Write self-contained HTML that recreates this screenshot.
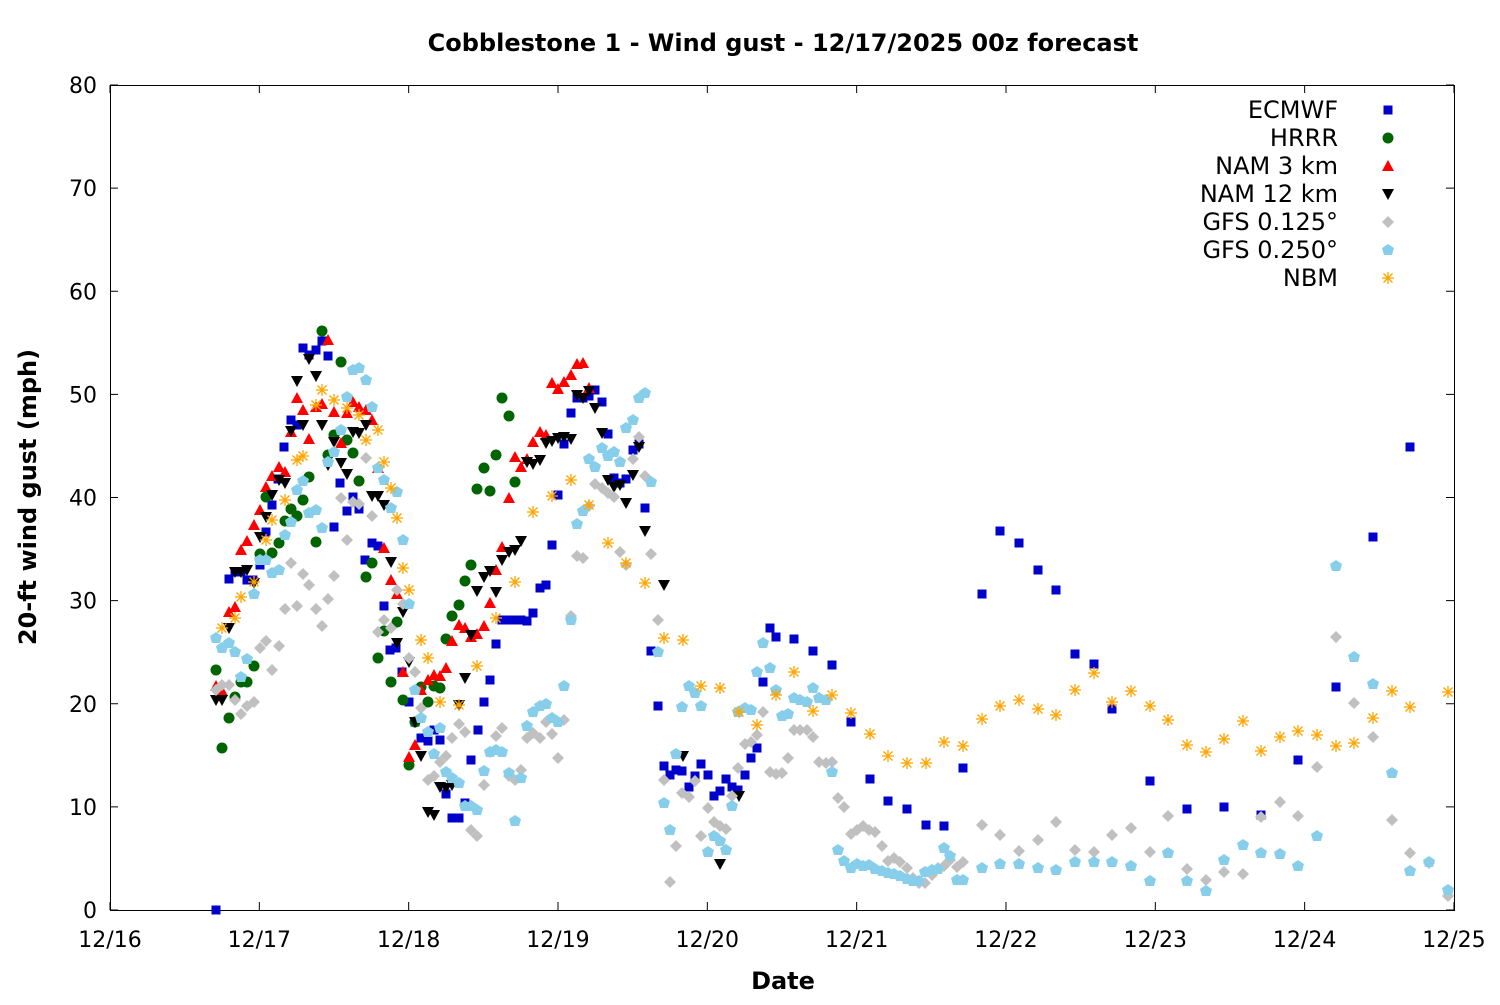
<!DOCTYPE html>
<html><head><meta charset="utf-8"><style>
body{margin:0;background:#fff}
svg text{font-family:"DejaVu Sans","Liberation Sans",sans-serif;fill:#000}
</style></head><body>
<svg id="s" width="1500" height="1000" xmlns="http://www.w3.org/2000/svg">
<rect width="1500" height="1000" fill="#fff"/>
<text x="783" y="51" font-size="24" font-weight="bold" text-anchor="middle">Cobblestone 1 - Wind gust - 12/17/2025 00z forecast</text>
<rect x="110.5" y="85.5" width="1344" height="825" fill="none" stroke="#000" stroke-width="1"/>
<g id="ticks"></g>
<text x="783" y="989" font-size="24" font-weight="bold" text-anchor="middle">Date</text>
<text transform="translate(36,497) rotate(-90)" font-size="24" font-weight="bold" text-anchor="middle">20-ft wind gust (mph)</text>
<g id="pts"></g>
<g font-size="24" text-anchor="end">
<text x="1338" y="118">ECMWF</text><text x="1338" y="146">HRRR</text><text x="1338" y="174">NAM 3 km</text><text x="1338" y="202">NAM 12 km</text><text x="1338" y="230">GFS 0.125°</text><text x="1338" y="258">GFS 0.250°</text><text x="1338" y="286">NBM</text>
</g>
</svg>
<script>
const T=document.getElementById('ticks');let h='';
for(let i=0;i<=8;i++){const y=910-i*103.125;h+=`<line x1="110" y1="${y}" x2="118" y2="${y}" stroke="#000"/><line x1="1454" y1="${y}" x2="1446" y2="${y}" stroke="#000"/><text x="97" y="${y+8}" font-size="22" text-anchor="end">${i*10}</text>`;}
const dl=['12/16','12/17','12/18','12/19','12/20','12/21','12/22','12/23','12/24','12/25'];
for(let i=0;i<=9;i++){const x=110+i*149.33;h+=`<line x1="${x}" y1="910" x2="${x}" y2="902" stroke="#000"/><line x1="${x}" y1="85" x2="${x}" y2="93" stroke="#000"/><text x="${x}" y="947" font-size="22" text-anchor="middle">${dl[i]}</text>`;}
T.innerHTML=h;
function mk(t,x,y){
 if(t==0)return `<rect x="${x-4.5}" y="${y-4.5}" width="9" height="9" fill="#0000cc"/>`;
 if(t==1)return `<circle cx="${x}" cy="${y}" r="5.5" fill="#006400"/>`;
 if(t==2)return `<polygon points="${x},${y-6} ${x+6},${y+5} ${x-6},${y+5}" fill="#ff0000"/>`;
 if(t==3)return `<polygon points="${x},${y+6} ${x+6},${y-5} ${x-6},${y-5}" fill="#000"/>`;
 if(t==4)return `<polygon points="${x},${y-6} ${x+6},${y} ${x},${y+6} ${x-6},${y}" fill="#c0c0c0"/>`;
 if(t==5)return `<polygon points="${x},${y-6} ${x+6},${y-2} ${x+4},${y+5} ${x-4},${y+5} ${x-6},${y-2}" fill="#87ceeb"/>`;
 return `<g stroke="#ffa500" stroke-width="1.3"><line x1="${x-6}" y1="${y}" x2="${x+6}" y2="${y}"/><line x1="${x}" y1="${y-6}" x2="${x}" y2="${y+6}"/><line x1="${x-4.5}" y1="${y-4.5}" x2="${x+4.5}" y2="${y+4.5}"/><line x1="${x-4.5}" y1="${y+4.5}" x2="${x+4.5}" y2="${y-4.5}"/></g>`;
}
const D=[
[216,910,229,579,235,572,241,572,247,580,253,580,260,565,266,532,272,505,278,479,284,447,291,420,297,425,303,348,309,355,316,350,322,341,328,356,334,527,340,483,347,511,353,497,359,509,365,560,372,543,378,546,384,606,390,650,396,648,402,672,409,702,415,722,421,738,428,741,434,730,440,740,446,794,452,818,459,818,465,803,471,760,478,730,484,702,490,680,496,644,502,620,509,620,515,620,521,620,527,621,533,613,540,588,546,585,552,545,558,495,564,444,571,413,577,398,583,398,589,396,595,390,602,402,608,434,614,478,620,483,626,479,633,450,639,444,645,508,651,651,658,706,664,766,670,775,676,770,682,771,689,787,695,776,701,764,708,775,714,796,720,791,726,779,732,787,738,790,745,775,751,758,757,748,763,682,770,628,776,637,794,639,813,651,832,665,851,722,870,779,888,801,907,809,926,825,944,826,963,768,982,594,1000,531,1019,543,1038,570,1056,590,1075,654,1094,664,1112,709,1150,781,1187,809,1224,807,1261,815,1298,760,1336,687,1373,537,1410,447],
[216,670,222,748,229,718,235,697,241,682,247,682,254,666,260,554,266,497,272,553,279,543,285,521,291,509,297,516,303,500,309,477,316,542,322,331,328,455,334,435,341,362,347,440,353,453,359,481,366,577,372,563,378,658,384,631,391,682,397,622,403,700,409,765,415,722,421,687,428,702,434,686,440,688,446,639,452,616,459,605,465,581,471,565,477,489,484,468,490,491,496,455,502,398,509,416,515,482],
[216,686,222,691,229,612,235,607,241,550,247,541,254,525,260,510,266,487,272,476,279,467,285,472,291,432,297,398,303,410,309,439,316,407,322,404,328,340,334,412,341,443,347,413,353,402,359,407,366,410,372,420,378,468,384,548,391,580,397,594,403,672,409,757,415,745,421,690,428,680,434,675,440,676,446,668,452,641,459,625,465,628,471,637,477,634,484,626,490,603,496,570,502,547,509,498,515,457,521,467,527,459,533,442,540,432,546,435,552,383,558,389,564,382,571,375,577,364,583,363,589,388],
[216,700,222,700,229,628,235,572,241,572,247,570,254,583,260,537,266,517,272,495,279,480,285,483,291,431,297,381,303,425,309,359,316,376,322,425,328,465,334,442,341,463,347,474,353,432,359,433,366,425,372,496,378,496,384,505,391,562,397,643,403,612,409,662,415,722,421,756,428,812,434,815,440,787,446,788,452,785,459,705,465,678,471,635,477,591,484,577,490,571,496,592,502,560,509,552,515,550,521,541,527,462,533,464,540,460,546,443,552,441,558,438,564,437,571,439,577,395,583,398,589,391,595,408,602,433,608,480,614,487,620,485,626,503,633,475,639,447,645,531,664,585,683,756,720,864,739,796],
[216,690,222,685,229,685,235,700,241,714,247,706,254,702,260,648,266,641,272,670,279,646,285,609,291,563,297,606,303,574,309,585,316,609,322,626,328,599,334,576,341,498,347,540,353,502,359,504,366,458,372,516,378,632,384,620,391,628,397,590,403,604,409,658,415,672,421,708,428,780,434,776,440,762,446,756,452,738,459,724,465,732,471,830,477,836,484,785,490,752,496,736,502,728,509,776,515,780,521,770,527,738,533,733,540,738,546,722,552,734,558,758,564,720,571,616,577,556,583,558,589,506,595,484,602,488,608,493,614,497,620,552,626,565,633,459,639,437,645,476,651,554,658,620,664,780,670,882,676,846,682,793,689,797,695,781,701,836,708,808,714,822,720,826,726,829,732,796,738,768,745,744,751,742,757,735,763,712,770,772,776,774,782,773,788,758,794,730,800,730,807,730,813,737,819,762,826,763,832,762,838,798,844,807,851,834,857,830,863,826,869,830,875,832,882,846,888,861,894,858,900,862,907,868,913,878,919,883,925,883,932,875,938,868,944,866,950,860,957,867,963,862,982,825,1000,835,1019,851,1038,840,1056,822,1075,850,1094,852,1112,835,1131,828,1150,852,1168,816,1187,869,1206,880,1224,872,1243,874,1261,817,1280,802,1298,816,1317,767,1336,637,1354,703,1373,737,1392,820,1410,853,1429,863,1448,896],
[216,638,222,648,229,643,235,652,241,677,247,659,254,594,260,560,266,560,272,573,279,570,285,535,291,522,297,490,303,481,309,513,316,510,322,528,328,462,334,452,341,430,347,397,353,370,359,368,366,380,372,407,378,468,384,480,391,508,397,492,403,540,409,604,415,690,421,718,428,732,434,754,440,728,446,772,452,778,459,783,465,806,471,806,477,810,484,771,490,752,496,750,502,752,509,773,515,821,521,778,527,726,533,712,540,706,546,704,552,718,558,722,564,686,571,620,577,524,583,511,589,459,595,467,602,448,608,456,614,452,620,462,626,428,633,420,639,398,645,393,651,482,658,652,664,803,670,830,676,754,682,707,689,686,695,693,701,706,708,852,714,836,720,841,726,850,732,806,738,712,745,708,751,710,757,672,763,643,770,668,776,690,782,716,788,714,794,698,800,700,807,702,813,688,819,698,826,700,832,772,838,850,844,861,851,868,857,864,863,866,869,865,875,869,882,871,888,873,894,874,900,876,907,879,913,881,919,881,925,872,932,870,938,869,944,848,950,856,957,880,963,880,982,868,1000,864,1019,864,1038,868,1056,870,1075,862,1094,862,1112,862,1131,866,1150,881,1168,853,1187,881,1206,891,1224,860,1243,845,1261,853,1280,854,1298,866,1317,836,1336,566,1354,657,1373,684,1392,773,1410,871,1429,862,1448,890],
[222,628,235,618,241,597,254,582,266,540,272,520,285,500,297,460,303,456,316,405,322,390,334,400,347,408,359,415,366,440,378,430,384,462,391,488,397,518,403,568,409,590,421,640,428,658,440,702,459,705,477,666,496,618,515,582,533,512,552,496,571,480,589,505,608,543,626,563,645,583,664,638,683,640,701,686,720,688,739,712,757,725,776,695,794,672,813,711,832,695,851,713,870,734,888,756,907,763,926,763,944,742,963,746,982,719,1000,706,1019,700,1038,709,1056,715,1075,690,1094,673,1112,702,1131,691,1150,706,1168,720,1187,745,1206,752,1224,739,1243,721,1261,751,1280,737,1298,731,1317,735,1336,746,1354,743,1373,718,1392,691,1410,707,1448,692]
];
let p='';
D.forEach((a,t)=>{for(let i=0;i<a.length;i+=2)p+=mk(t,a[i],a[i+1]);p+=mk(t,1388,110+28*t);});
document.getElementById('pts').innerHTML=p;
</script>
</body></html>
